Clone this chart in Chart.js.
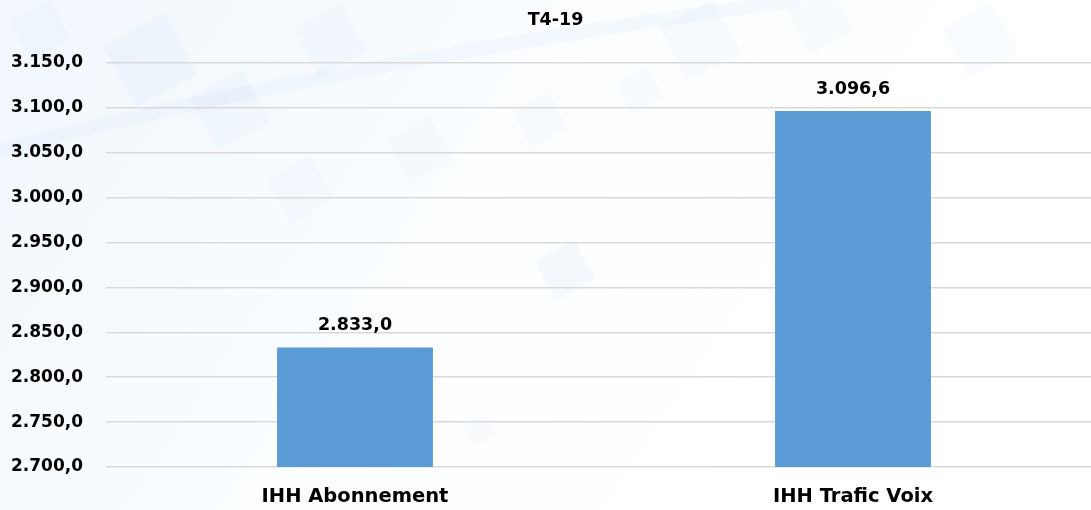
<!DOCTYPE html>
<html>
<head>
<meta charset="utf-8">
<script src="https://cdn.jsdelivr.net/npm/chart.js@4.4.1/dist/chart.umd.min.js"></script>
<style>
  html, body { margin: 0; padding: 0; overflow: hidden; background: #fff; }
  #wrap { width: 1102px; height: 510px; position: relative; }
</style>
</head>
<body>
<div id="wrap"><canvas id="mycanvas"></canvas></div>
<script>
var categories = ['IHH Abonnement', 'IHH Trafic Voix'];
var values = [2833.0, 3096.6];
var title = 'T4-19';
var yMin = 2700, yMax = 3150, yStep = 50;

// 1234.5 -> "1.234,5"
function fmt(v) {
  var parts = v.toFixed(1).split('.');
  var int = parts[0].replace(/\B(?=(\d{3})+(?!\d))/g, '.');
  return int + ',' + parts[1];
}

// pale blue backdrop with soft tilted squares
var backdrop = {
  id: 'backdrop',
  beforeDraw: function(chart) {
    var c = chart.ctx, w = chart.width, h = chart.height;
    c.save();
    var g = c.createLinearGradient(0, 0, w * 0.7, h);
    g.addColorStop(0, '#f1f7fd');
    g.addColorStop(0.55, '#fbfdff');
    g.addColorStop(1, '#ffffff');
    c.fillStyle = g;
    c.fillRect(0, 0, w, h);
    var squares = [
      [150, 60, 70, 0.06], [230, 110, 60, 0.05], [330, 40, 55, 0.05], [565, 270, 45, 0.06],
      [420, 150, 50, 0.035], [700, 40, 60, 0.045], [820, 20, 50, 0.04], [980, 40, 55, 0.04],
      [40, 30, 45, 0.04], [540, 120, 40, 0.035], [370, 400, 30, 0.03], [480, 430, 25, 0.03],
      [300, 190, 50, 0.035], [640, 90, 35, 0.035]
    ];
    squares.forEach(function(s) {
      c.save();
      c.translate(s[0], s[1]);
      c.rotate(-0.5);
      c.fillStyle = 'rgba(120,170,220,' + s[3] + ')';
      c.fillRect(-s[2] / 2, -s[2] / 2, s[2], s[2]);
      c.restore();
    });
    c.strokeStyle = 'rgba(170,200,235,0.09)';
    c.lineWidth = 14;
    c.beginPath();
    c.moveTo(0, 150); c.quadraticCurveTo(350, 60, 800, 0);
    c.stroke();
    c.restore();
  }
};

// value printed above each bar
var valueLabels = {
  id: 'valueLabels',
  afterDatasetsDraw: function(chart) {
    var c = chart.ctx;
    var meta = chart.getDatasetMeta(0);
    c.save();
    c.font = 'bold 17.5px "DejaVu Sans", sans-serif';
    c.fillStyle = '#000';
    c.textAlign = 'center';
    c.textBaseline = 'bottom';
    meta.data.forEach(function(bar, i) {
      c.fillText(fmt(values[i]), bar.x, bar.y - 13);
    });
    c.restore();
  }
};

var ctx = document.getElementById('mycanvas');
var barGraph = new Chart(ctx, {
  type: 'bar',
  data: {
    labels: categories,
    datasets: [{
      data: values,
      backgroundColor: '#5b9bd5',
      borderWidth: 0,
      categoryPercentage: 1,
      barPercentage: 0.313
    }]
  },
  options: {
    responsive: true,
    maintainAspectRatio: false,
    animation: false,
    layout: { padding: { left: 9, right: 0, top: 8, bottom: 0 } },
    plugins: {
      legend: { display: false },
      tooltip: { enabled: false },
      title: {
        display: true,
        text: title,
        color: '#000',
        font: { family: '"DejaVu Sans", sans-serif', size: 17.5, weight: 'bold' },
        padding: { top: 2, bottom: 32 }
      }
    },
    scales: {
      x: {
        grid: { display: false, drawTicks: false },
        border: { display: false },
        afterFit: function(axis) { axis.height = 43; },
        ticks: {
          color: '#000',
          padding: 18,
          font: { family: '"DejaVu Sans", sans-serif', size: 19.5, weight: 'bold' }
        }
      },
      y: {
        min: yMin,
        max: yMax,
        grid: { color: '#d9d9d9', lineWidth: 1.5, drawTicks: false },
        border: { display: false },
        afterFit: function(axis) { axis.width = 97; },
        ticks: {
          stepSize: yStep,
          color: '#000',
          padding: 23,
          font: { family: '"DejaVu Sans", sans-serif', size: 17, weight: 'bold' },
          callback: function(v) { return fmt(v); }
        }
      }
    }
  },
  plugins: [backdrop, valueLabels]
});
</script>
</body>
</html>
